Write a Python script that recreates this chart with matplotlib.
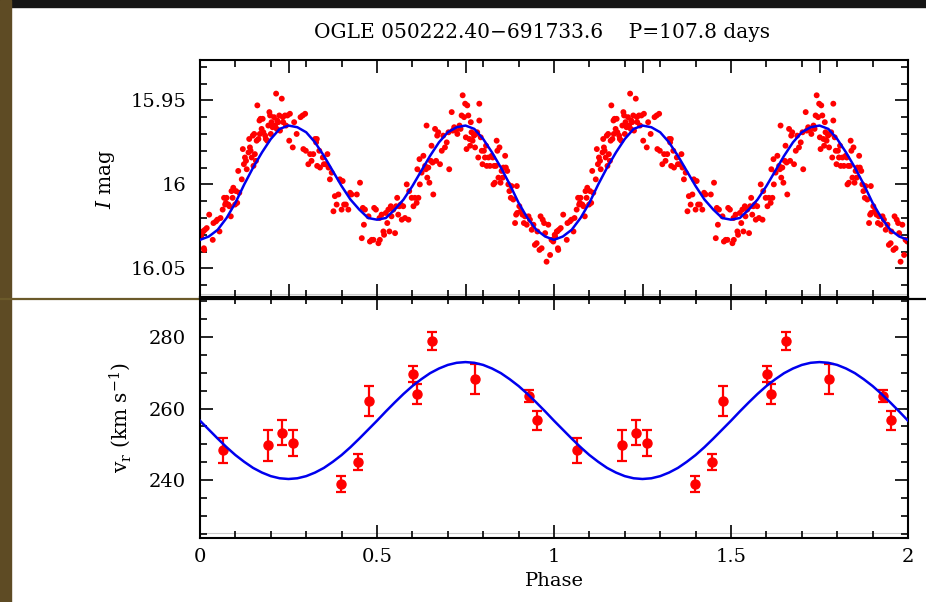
import numpy as np
import matplotlib
matplotlib.use("Agg")
from matplotlib import pyplot as plt
from matplotlib.ticker import MultipleLocator, FixedLocator

plt.rcParams['font.family'] = ['DejaVu Serif']
plt.rcParams['mathtext.fontset'] = 'dejavuserif'

# OGLE I-band photometry, one cycle (phase, mag) -- plotted twice
phase_I = [0.002, 0.009, 0.014, 0.019, 0.011, 0.026, 0.038, 0.036, 0.045, 0.049,
           0.055, 0.058, 0.064, 0.068, 0.071, 0.073, 0.075, 0.080, 0.083, 0.087,
           0.089, 0.094, 0.092, 0.099, 0.102, 0.105, 0.108, 0.111, 0.118, 0.121,
           0.124, 0.127, 0.130, 0.132, 0.137, 0.139, 0.141, 0.143, 0.146, 0.149,
           0.151, 0.153, 0.155, 0.158, 0.160, 0.162, 0.165, 0.168, 0.169, 0.171,
           0.174, 0.177, 0.179, 0.184, 0.186, 0.190, 0.193, 0.196, 0.198, 0.200,
           0.202, 0.205, 0.209, 0.212, 0.215, 0.217, 0.218, 0.221, 0.224, 0.226,
           0.231, 0.234, 0.235, 0.240, 0.243, 0.247, 0.252, 0.254, 0.262, 0.266,
           0.273, 0.284, 0.290, 0.297, 0.292, 0.299, 0.306, 0.311, 0.315, 0.320,
           0.325, 0.328, 0.330, 0.331, 0.337, 0.339, 0.347, 0.350, 0.356, 0.360,
           0.363, 0.367, 0.372, 0.377, 0.381, 0.386, 0.391, 0.395, 0.400, 0.403,
           0.407, 0.412, 0.419, 0.424, 0.428, 0.443, 0.452, 0.457, 0.460, 0.463,
           0.466, 0.476, 0.480, 0.485, 0.490, 0.492, 0.497, 0.504, 0.507, 0.508,
           0.513, 0.518, 0.520, 0.525, 0.529, 0.532, 0.535, 0.539, 0.541, 0.546,
           0.551, 0.554, 0.557, 0.560, 0.563, 0.567, 0.570, 0.574, 0.579, 0.584,
           0.589, 0.591, 0.598, 0.603, 0.607, 0.612, 0.617, 0.614, 0.620, 0.621,
           0.626, 0.631, 0.636, 0.638, 0.640, 0.642, 0.645, 0.648, 0.652, 0.654,
           0.657, 0.659, 0.664, 0.667, 0.670, 0.673, 0.678, 0.683, 0.687, 0.692,
           0.697, 0.702, 0.704, 0.711, 0.714, 0.718, 0.723, 0.727, 0.733, 0.736,
           0.739, 0.742, 0.746, 0.749, 0.751, 0.753, 0.755, 0.758, 0.761, 0.763,
           0.765, 0.767, 0.770, 0.774, 0.777, 0.780, 0.783, 0.786, 0.789, 0.789,
           0.793, 0.796, 0.798, 0.802, 0.805, 0.808, 0.810, 0.815, 0.819, 0.824,
           0.827, 0.829, 0.831, 0.833, 0.836, 0.838, 0.840, 0.843, 0.846, 0.849,
           0.852, 0.855, 0.857, 0.862, 0.864, 0.868, 0.871, 0.874, 0.878, 0.880,
           0.885, 0.890, 0.893, 0.895, 0.896, 0.902, 0.906, 0.911, 0.915, 0.918,
           0.923, 0.928, 0.932, 0.937, 0.942, 0.946, 0.951, 0.953, 0.959, 0.962,
           0.965, 0.968, 0.972, 0.975, 0.979, 0.984, 0.989, 0.993, 0.998, 0.003,
           0.008, 0.012]
mag_I = [16.030, 16.028, 16.027, 16.026, 16.038, 16.018, 16.023, 16.033, 16.022, 16.021,
         16.028, 16.020, 16.015, 16.008, 16.012, 16.011, 16.008, 16.012, 16.013, 16.019,
         16.004, 16.002, 16.008, 16.012, 16.004, 16.011, 15.992, 16.005, 15.997, 15.979,
         15.988, 15.984, 15.986, 15.991, 15.981, 15.973, 15.978, 15.980, 15.984, 15.971,
         15.989, 15.970, 15.982, 15.986, 15.974, 15.953, 15.973, 15.962, 15.970, 15.961,
         15.967, 15.961, 15.969, 15.971, 15.973, 15.974, 15.965, 15.957, 15.959, 15.970,
         15.963, 15.966, 15.960, 15.965, 15.946, 15.967, 15.962, 15.963, 15.959, 15.968,
         15.949, 15.960, 15.963, 15.959, 15.965, 15.959, 15.974, 15.958, 15.978, 15.963,
         15.970, 15.960, 15.959, 15.958, 15.979, 15.980, 15.988, 15.982, 15.986, 15.982,
         15.973, 15.975, 15.973, 15.989, 15.980, 15.990, 15.984, 15.988, 15.988, 15.982,
         15.990, 15.997, 15.993, 16.016, 16.007, 16.012, 16.006, 15.997, 16.015, 15.998,
         16.012, 16.012, 16.015, 16.005, 16.006, 16.006, 15.999, 16.032, 16.014, 16.024,
         16.015, 16.019, 16.034, 16.033, 16.033, 16.014, 16.015, 16.035, 16.020, 16.033,
         16.018, 16.028, 16.030, 16.017, 16.023, 16.015, 16.028, 16.013, 16.019, 16.015,
         16.029, 16.013, 16.008, 16.018, 16.013, 16.012, 16.021, 16.013, 16.020, 16.000,
         16.021, 16.004, 16.008, 16.013, 16.008, 16.011, 16.008, 15.991, 15.985, 16.000,
         15.993, 15.983, 15.989, 15.991, 15.965, 15.996, 15.990, 15.999, 15.986, 15.977,
         15.987, 16.006, 15.967, 15.986, 15.971, 15.969, 15.988, 15.980, 15.971, 15.978,
         15.975, 15.969, 15.991, 15.957, 15.968, 15.966, 15.968, 15.970, 15.965, 15.967,
         15.959, 15.947, 15.960, 15.952, 15.972, 15.979, 15.953, 15.959, 15.973, 15.977,
         15.963, 15.969, 15.974, 15.971, 15.978, 15.970, 15.969, 15.984, 15.952, 15.962,
         15.972, 15.980, 15.988, 15.980, 15.984, 15.977, 15.989, 15.984, 15.989, 15.983,
         15.984, 16.000, 15.989, 15.999, 15.989, 15.974, 15.980, 15.996, 15.978, 15.999,
         15.992, 15.996, 15.990, 15.983, 15.990, 15.992, 16.000, 16.004, 16.008, 16.001,
         16.009, 16.023, 16.018, 16.001, 16.017, 16.013, 16.016, 16.018, 16.023, 16.019,
         16.024, 16.019, 16.021, 16.027, 16.024, 16.036, 16.035, 16.028, 16.039, 16.019,
         16.038, 16.021, 16.023, 16.029, 16.046, 16.024, 16.042, 16.033, 16.034, 16.031,
         16.028, 16.039]

# fitted light curve, one cycle at phase steps of 0.025
model_mag = [16.033, 16.031, 16.027, 16.020, 16.011, 16.000, 15.990, 15.981, 15.973, 15.967,
             15.965, 15.966, 15.969, 15.975, 15.983, 15.992, 16.001, 16.009, 16.015, 16.020,
             16.021, 16.020, 16.015, 16.009, 16.001, 15.992, 15.983, 15.975, 15.969, 15.966,
             15.965, 15.967, 15.973, 15.981, 15.990, 16.000, 16.011, 16.020, 16.027, 16.031,
             16.033]

# radial velocities, one cycle
rv_phase = [0.066, 0.193, 0.233, 0.262, 0.398, 0.447, 0.478, 0.601, 0.614, 0.655,
            0.776, 0.929, 0.953]
rv_vel = [248.3, 249.7, 253.3, 250.4, 238.9, 245.0, 262.2, 269.6, 264.1, 278.9,
          268.3, 263.4, 256.7]
rv_err = [3.5, 4.4, 3.5, 3.7, 2.1, 2.3, 4.2, 2.2, 2.8, 2.5, 4.3, 1.7, 2.6]

# fitted velocity curve, phase steps of 0.025
rv_model = [256.6, 254.1, 251.6, 249.2, 247.0, 245.1, 243.4, 242.1, 241.1, 240.5,
            240.3, 240.5, 241.1, 242.1, 243.4, 245.1, 247.0, 249.2, 251.6, 254.1,
            256.6, 259.2, 261.7, 264.1, 266.3, 268.2, 269.9, 271.2, 272.2, 272.8,
            273.0, 272.8, 272.2, 271.2, 269.9, 268.2, 266.3, 264.1, 261.7, 259.2,
            256.6]

# phase-folded plot shows the same cycle twice
ph = np.array(phase_I)
ph2 = np.concatenate([ph, ph + 1])
mag2 = np.concatenate([mag_I, mag_I])
mph = np.linspace(0, 1, len(model_mag))
mph2 = np.concatenate([mph, mph[1:] + 1])
mmag2 = np.concatenate([model_mag, model_mag[1:]])
rvp = np.array(rv_phase)
rvp2 = np.concatenate([rvp, rvp + 1])
rvv2 = np.concatenate([rv_vel, rv_vel])
rve2 = np.concatenate([rv_err, rv_err])
rvm2 = np.concatenate([rv_model, rv_model[1:]])

fig = plt.figure(figsize=(9.26, 6.02), dpi=100)
fig.patch.set_facecolor('white')

# screenshot border bits
fig.add_artist(plt.Rectangle((0, 1 - 7 / 602), 1, 7 / 602, transform=fig.transFigure,
                             color='#151515', zorder=0))
fig.add_artist(plt.Rectangle((0, 0), 11 / 926, 1, transform=fig.transFigure,
                             color='#5e4b24', zorder=0))

ax1 = fig.add_axes([200 / 926, 1 - 297 / 602, 708 / 926, 237 / 602])
ax2 = fig.add_axes([200 / 926, 1 - 538 / 602, 708 / 926, 241 / 602])

red = '#ff0000'
blue = '#0000ee'

ax1.scatter(ph2, mag2, s=18, color=red, edgecolors='none', zorder=2)
ax1.plot(mph2, mmag2, color=blue, lw=1.8, zorder=3)
ax1.axhline(16.0655, color='#cccccc', lw=0.8, zorder=1)
ax1.set_xlim(0, 2)
ax1.set_ylim(16.067, 15.926)
ax1.yaxis.set_major_locator(FixedLocator([15.95, 16.0, 16.05]))
ax1.set_yticklabels(['15.95', '16', '16.05'])
ax1.yaxis.set_minor_locator(MultipleLocator(0.01))
ax1.set_ylabel('$I$ mag', fontsize=14.5)
ax1.yaxis.set_label_coords(-0.117, 0.5)
ax1.tick_params(labelbottom=False)

ax2.errorbar(rvp2, rvv2, yerr=rve2, fmt='o', color=red, ms=6.5, elinewidth=1.6,
             capsize=3.5, capthick=1.6, zorder=2)
ax2.plot(mph2, rvm2, color=blue, lw=1.8, zorder=3)
ax2.axhline(225.2, color='#cccccc', lw=0.8, zorder=1)
ax2.set_xlim(0, 2)
ax2.set_ylim(223.8, 291.2)
ax2.yaxis.set_major_locator(MultipleLocator(20))
ax2.yaxis.set_minor_locator(MultipleLocator(5))
ax2.set_ylabel('v$_\\mathrm{r}$ (km s$^{-1}$)', fontsize=14.5)
ax2.yaxis.set_label_coords(-0.094, 0.5)
ax2.set_xlabel('Phase', fontsize=14)
ax2.xaxis.set_label_coords(0.5, -0.14)
ax2.set_xticks([0, 0.5, 1, 1.5, 2])
ax2.set_xticklabels(['0', '0.5', '1', '1.5', '2'])

for ax in (ax1, ax2):
    ax.xaxis.set_minor_locator(MultipleLocator(0.1))
    ax.tick_params(which='both', direction='in', top=True, right=True, width=1.2,
                   labelsize=14)
    ax.tick_params(which='major', length=9.5)
    ax.tick_params(which='minor', length=5)
    ax.tick_params(axis='y', which='major', pad=10)
    ax.tick_params(axis='x', which='major', pad=7)
    for sp in ax.spines.values():
        sp.set_linewidth(1.5)

fig.text(542 / 926, 1 - 32 / 602, 'OGLE 050222.40\u2212691733.6    P=107.8 days',
         ha='center', va='center', fontsize=14.5)

# horizontal slide rule across the panel seam
fig.add_artist(plt.Line2D([0, 200 / 926], [1 - 299 / 602] * 2, transform=fig.transFigure,
                          color='#6b5a2a', lw=1.6, zorder=5))
fig.add_artist(plt.Line2D([200 / 926, 1], [1 - 299 / 602] * 2, transform=fig.transFigure,
                          color='black', lw=1.6, zorder=5))

fig.savefig('out.png', dpi=100)
